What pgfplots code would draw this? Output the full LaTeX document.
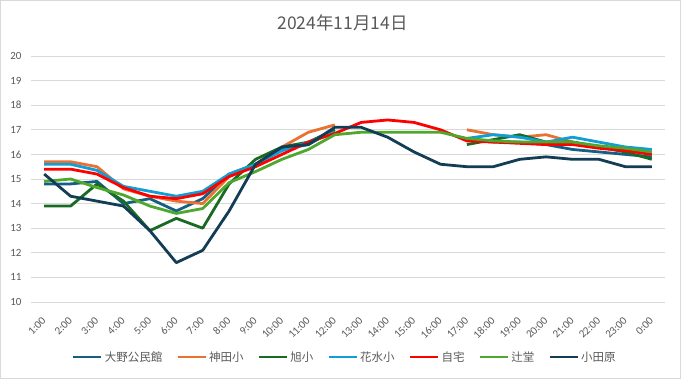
\documentclass[border=0pt]{standalone}
\usepackage{pgfplots}
\pgfplotsset{compat=1.18}
\usepackage{pgfplotstable}
\usepackage{fontspec}
\setmainfont{Carlito}
\newfontfamily\jp{Noto Sans CJK JP}
\definecolor{txt}{HTML}{595959}
\definecolor{gridc}{HTML}{D9D9D9}
\definecolor{cOono}{HTML}{156082}
\definecolor{cKanda}{HTML}{E97132}
\definecolor{cAsahi}{HTML}{196B24}
\definecolor{cHana}{HTML}{0F9ED5}
\definecolor{cJitaku}{HTML}{FF0000}
\definecolor{cTsuji}{HTML}{4EA72E}
\definecolor{cOda}{HTML}{133C55}

\pgfplotstableread{
x  oono  kanda asahi hana  jitaku tsuji oda
0  14.8  15.7  13.9  15.6  15.4   14.9  15.2
1  14.8  15.7  13.9  15.6  15.4   15.0  14.3
2  14.9  15.5  14.8  15.35 15.2   14.65 14.1
3  14.0  14.6  14.1  14.7  14.65  14.35 13.9
4  14.2  14.3  12.9  14.5  14.3   13.9  12.9
5  13.7  14.1  13.4  14.3  14.2   13.6  11.6
6  14.2  14.0  13.0  14.5  14.4   13.8  12.1
7  15.2  15.1  14.8  15.2  15.1   14.85 13.7
8  15.6  15.6  15.8  15.6  15.5   15.3  15.6
9  16.2  16.3  16.3  16.15 16.0   15.8  16.3
10 16.4  16.9  16.5  16.5  16.5   16.2  16.4
11 17.0  17.2  17.0  16.9  16.85  16.8  17.1
12 nan   nan   nan   nan   17.3   16.9  17.1
13 nan   nan   nan   nan   17.4   16.9  16.7
14 nan   nan   nan   nan   17.3   16.9  16.1
15 nan   nan   nan   nan   17.0   16.9  15.6
16 16.6  17.0  16.4  16.65 16.55  16.65 15.5
17 16.5  16.8  16.6  16.8  16.5   16.55 15.5
18 16.5  16.7  16.8  16.7  16.45  16.5  15.8
19 16.4  16.8  16.5  16.5  16.4   16.5  15.9
20 16.2  16.5  16.5  16.7  16.4   16.5  15.8
21 16.1  16.3  16.3  16.5  16.25  16.35 15.8
22 16.0  16.2  16.1  16.3  16.15  16.25 15.5
23 15.9  16.0  15.8  16.2  16.0   16.1  15.5
}\data

\begin{document}
\begin{tikzpicture}
\path[use as bounding box] (0pt,0pt) rectangle (681pt,379pt);
\draw[draw=gridc, line width=0.8pt] (0.4pt,0.4pt) rectangle (680.6pt,378.6pt);
\node[text=txt, font=\jp\fontsize{17.5}{20}\selectfont] at (342.5pt,356pt) {2024年11月14日};
\begin{axis}[
  at={(31pt,77pt)}, anchor=south west,
  scale only axis, width=634pt, height=246pt,
  xmin=-0.5, xmax=23.5, ymin=10, ymax=20,
  ytick={10,11,...,20},
  xtick={0,1,...,23},
  xticklabels={1:00,2:00,3:00,4:00,5:00,6:00,7:00,8:00,9:00,10:00,11:00,12:00,13:00,14:00,15:00,16:00,17:00,18:00,19:00,20:00,21:00,22:00,23:00,0:00},
  ymajorgrids, grid style={gridc, line width=0.8pt},
  axis line style={draw=none},
  major tick length=0pt,
  tick label style={text=txt, font=\fontsize{11}{13}\selectfont},
  /pgf/number format/assume math mode=true,
  yticklabel style={anchor=east, xshift=-6pt},
  xticklabel style={rotate=45, anchor=east, xshift=-8.5pt, yshift=-11.5pt},
  unbounded coords=jump,
  legend columns=-1,
  legend style={at={(0.495,-0.2236)}, anchor=center, draw=none, fill=none,
    font=\jp\fontsize{11.5}{13}\selectfont, text=txt,
    /tikz/every even column/.append style={column sep=12pt},
    /tikz/every odd column/.append style={column sep=0pt}},
  legend image code/.code={\draw[#1, line width=2.8pt] (0pt,0pt) -- (28pt,0pt);},
  every axis plot/.append style={line width=2.8pt, line join=round, no markers},
]
\addplot[cOono] table[x=x, y=oono] {\data};
\addplot[cKanda] table[x=x, y=kanda] {\data};
\addplot[cAsahi] table[x=x, y=asahi] {\data};
\addplot[cHana] table[x=x, y=hana] {\data};
\addplot[cJitaku] table[x=x, y=jitaku] {\data};
\addplot[cTsuji] table[x=x, y=tsuji] {\data};
\addplot[cOda] table[x=x, y=oda] {\data};
\legend{大野公民館,神田小,旭小,花水小,自宅,辻堂,小田原}
\end{axis}
\end{tikzpicture}
\end{document}
